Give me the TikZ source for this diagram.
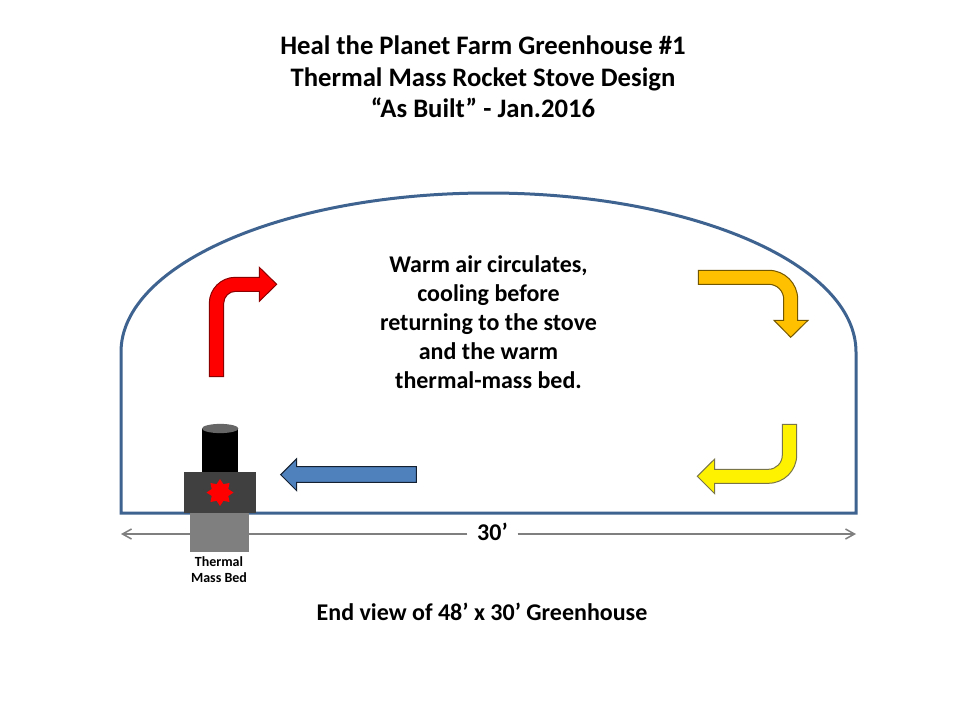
\documentclass[tikz,border=0pt]{standalone}
\usepackage{fontspec}
\setmainfont{Carlito}
\usetikzlibrary{arrows.meta,shapes.geometric}
\definecolor{house}{HTML}{3F6390}
\definecolor{dimgray}{HTML}{7F7F7F}
\definecolor{stovegray}{HTML}{404040}
\definecolor{bluefill}{HTML}{4F81BD}
\definecolor{orangefill}{HTML}{FFC000}
\tikzset{
  bigtext/.style={font=\bfseries\fontsize{26.7}{31.5}\selectfont,align=center,inner sep=0pt},
  bodytext/.style={font=\bfseries\fontsize{24}{29}\selectfont,align=center,inner sep=0pt},
  smalltext/.style={font=\bfseries\fontsize{14}{16}\selectfont,align=center,inner sep=0pt},
  flowarrow/.style={line width=1pt,line join=miter},
  dimline/.style={draw=dimgray,line width=1.5pt,-{Straight Barb[length=9pt,width=10pt,line width=1.5pt]}},
}
\begin{document}
\begin{tikzpicture}[x=1pt,y=-1pt]
\useasboundingbox (0,0) rectangle (960,720);
\fill[white] (0,0) rectangle (960,720);
% title
\node[bigtext] (title) at (483,76.8) {Heal the Planet Farm Greenhouse \#1\\Thermal Mass Rocket Stove Design\\“As Built” - Jan.2016};
% greenhouse
\draw[house,line width=3pt,line join=miter] (121,352) arc[start angle=180,end angle=0,x radius=367.5pt,y radius=159pt] -- (856,513) -- (121,513) -- cycle;
% body
\node[bodytext] (body) at (488.5,322) {Warm air circulates,\\cooling before\\returning to the stove\\and the warm\\thermal-mass bed.};
% dimension
\node[bodytext,minimum width=50pt,minimum height=20pt] (dimlabel) at (492.5,532) {30’};
\coordinate (dimL) at (121,534);
\coordinate (dimR) at (856,534);
\draw[dimline] (dimlabel.west |- dimL) -- (dimL);
\draw[dimline] (dimlabel.east |- dimR) -- (dimR);
% bed and stove
\node[fill=dimgray,inner sep=0pt,minimum width=59pt,minimum height=40pt] (bed) at (219.5,532) {};
\node[fill=stovegray,inner sep=0pt,minimum width=72pt,minimum height=41pt] (stove) at (220,492.5) {};
\node[fill=black,inner sep=0pt,minimum width=36.5pt,minimum height=43.5pt,anchor=south] (chimney) at (220.2,472) {};
\fill[black!60!white] (220.2,428.5) ellipse[x radius=18.2pt,y radius=4.6pt];
\node[star,star points=8,star point ratio=1.5,fill=red,inner sep=0pt,minimum size=27pt] (fire) at (220,492.5) {};
\node[smalltext] (bedlabel) at (219,570) {Thermal\\Mass Bed};
% arrows
\draw[flowarrow,draw=red!55!black,fill=red] (209.3,376.7) -- (209.3,303.3) .. controls (209.3,289) and (221,277.3) .. (235.3,277.3) -- (259.3,277.3) -- (259.3,267.3) -- (276.7,284.3) -- (259.3,301.3) -- (259.3,291.3) -- (235.7,291.3) .. controls (229,291.3) and (223.7,296.7) .. (223.7,303.3) -- (223.7,376.7) -- cycle;
\draw[flowarrow,draw=orangefill!45!black,fill=orangefill] (698.3,270.3) -- (768.7,270.3) .. controls (784.7,270.3) and (797.7,283.3) .. (797.7,299.3) -- (797.7,320.3) -- (808,320.3) -- (790.7,337.3) -- (774,320.3) -- (783.7,320.3) -- (783.7,299.3) .. controls (783.7,291) and (777,284.3) .. (768.7,284.3) -- (698.3,284.3) -- cycle;
\draw[flowarrow,draw=yellow!40!black,fill=yellow] (782.3,424.3) -- (796.7,424.3) -- (796.7,455) .. controls (796.7,470.6) and (784,483.3) .. (768.3,483.3) -- (714.7,483.3) -- (714.7,493.7) -- (697.3,476.3) -- (714.7,459) -- (714.7,469.3) -- (768.3,469.3) .. controls (776,469.3) and (782.3,463) .. (782.3,455) -- cycle;
\draw[flowarrow,draw=bluefill!25!black,fill=bluefill] (416.3,466.7) -- (296.7,466.7) -- (296.7,458.7) -- (280.7,474.7) -- (296.7,490.7) -- (296.7,482.3) -- (416.3,482.3) -- cycle;
% caption
\node[bodytext] (caption) at (482,612) {End view of 48’ x 30’ Greenhouse};
\end{tikzpicture}
\end{document}
